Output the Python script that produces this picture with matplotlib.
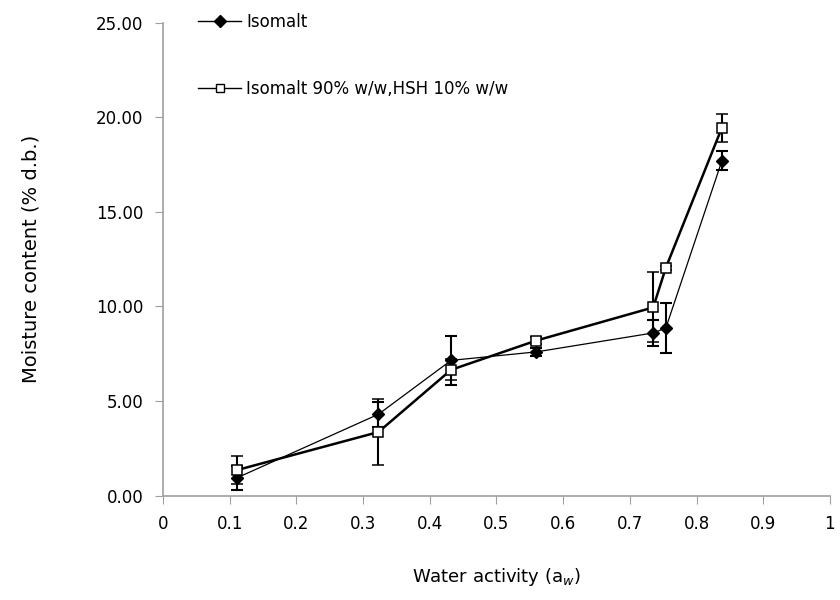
import numpy as np
import matplotlib
matplotlib.use("Agg")
import matplotlib.pyplot as plt
from matplotlib.lines import Line2D

# water activity
aw = [0.111, 0.323, 0.432, 0.56, 0.735, 0.754, 0.838]

# Isomalt
iso = [0.94, 4.30, 7.15, 7.60, 8.60, 8.86, 17.70]
iso_err = [0.65, 0.65, 1.30, 0.20, 0.70, 1.30, 0.50]

# Isomalt 90% w/w, HSH 10% w/w
mix = [1.35, 3.36, 6.65, 8.20, 9.95, 12.05, 19.45]
mix_err = [0.72, 1.75, 0.55, 0.20, 1.85, 0.10, 0.75]

labels = ["Isomalt", "Isomalt 90% w/w,HSH 10% w/w"]

fig = plt.figure(figsize=(8.4, 6), dpi=100)
ax = fig.add_axes([0.194, 0.174, 0.794, 0.788])

ax.errorbar(aw, iso, yerr=iso_err, color="black", lw=0.9, marker="D",
            markersize=6, mfc="black", mec="black", ecolor="black",
            elinewidth=1.5, capsize=4.5, capthick=1.5, zorder=3)
ax.errorbar(aw, mix, yerr=mix_err, color="black", lw=1.8, marker="s",
            markersize=7, mfc="white", mec="black", mew=1.1, ecolor="black",
            elinewidth=1.5, capsize=4.5, capthick=1.5, zorder=4)

ax.set_xlim(0, 1)
ax.set_ylim(0, 25)
ax.set_xticks(np.arange(0, 1.01, 0.1))
ax.set_xticklabels(["0", "0.1", "0.2", "0.3", "0.4", "0.5", "0.6", "0.7", "0.8", "0.9", "1"])
ax.set_yticks(np.arange(0, 25.1, 5))
ax.set_yticklabels([f"{v:.2f}" for v in np.arange(0, 25.1, 5)])

for s in ["top", "right"]:
    ax.spines[s].set_visible(False)
for s in ["left", "bottom"]:
    ax.spines[s].set_color("#a0a0a0")
    ax.spines[s].set_linewidth(1.2)
ax.tick_params(axis="both", direction="out", length=6, color="#a0a0a0",
               labelsize=12, pad=8)

ax.set_xlabel("Water activity (a$_{w}$)", fontsize=13, labelpad=24)
ax.set_ylabel("Moisture content (% d.b.)", fontsize=14, labelpad=40)

handles = [
    Line2D([], [], color="black", lw=1, marker="D", markersize=6, mfc="black"),
    Line2D([], [], color="black", lw=1, marker="s", markersize=6, mfc="white"),
]
fig.legend(handles, labels, loc="upper left", bbox_to_anchor=(0.218, 1.003),
           frameon=False, fontsize=12, labelspacing=2.9, handlelength=2.6,
           handletextpad=0.3)

fig.savefig("out.png", dpi=100)
